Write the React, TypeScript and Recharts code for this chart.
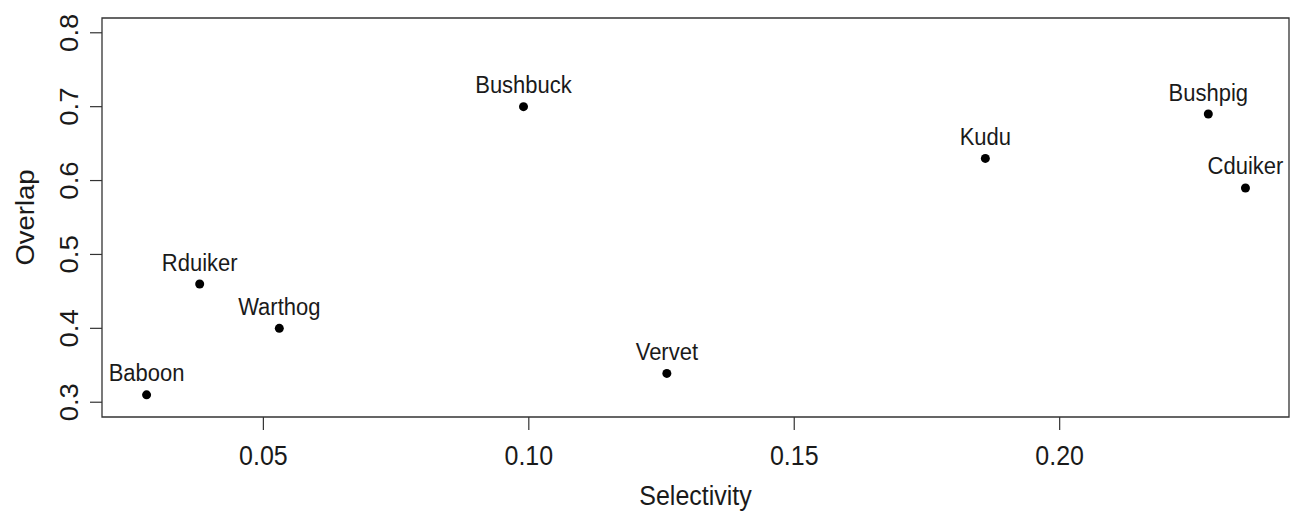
import {
  ReferenceArea,
  Scatter,
  ScatterChart,
  XAxis,
  YAxis,
  Label,
} from "recharts";

// species
const SPECIES = ["Baboon", "Rduiker", "Warthog", "Bushbuck", "Vervet", "Kudu", "Bushpig", "Cduiker"];
const SELECTIVITY = [0.028, 0.038, 0.053, 0.099, 0.126, 0.186, 0.228, 0.235];
const OVERLAP = [0.31, 0.46, 0.40, 0.70, 0.339, 0.63, 0.69, 0.59];

const X_TICKS = [0.05, 0.1, 0.15, 0.2];
const X_TICK_LABELS = ["0.05", "0.10", "0.15", "0.20"];
const Y_TICKS = [0.3, 0.4, 0.5, 0.6, 0.7, 0.8];
const Y_TICK_LABELS = ["0.3", "0.4", "0.5", "0.6", "0.7", "0.8"];

// R-style 4% padding around the data / ylim
const X_DOMAIN: [number, number] = [0.0196, 0.2432];
const Y_DOMAIN: [number, number] = [0.28, 0.82];

const FONT = "'Liberation Sans', Arial, sans-serif";
const INK = "#1a1a1a";

const rows = SPECIES.map((name, i) => ({ name, x: SELECTIVITY[i], y: OVERLAP[i] }));

function XTick(props: any) {
  const { x, y, payload } = props;
  const i = X_TICKS.indexOf(payload.value);
  return (
    <text
      transform={`translate(${x},${y + 35}) scale(1,1.1)`}
      textAnchor="middle"
      fontSize={25}
      fontFamily={FONT}
      fill={INK}
    >
      {i >= 0 ? X_TICK_LABELS[i] : payload.value}
    </text>
  );
}

function YTick(props: any) {
  const { x, y, payload } = props;
  const i = Y_TICKS.findIndex((t) => Math.abs(t - payload.value) < 1e-9);
  return (
    <text
      transform={`translate(${x - 12},${y}) rotate(-90) scale(1.1,1)`}
      textAnchor="middle"
      fontSize={25}
      fontFamily={FONT}
      fill={INK}
    >
      {i >= 0 ? Y_TICK_LABELS[i] : payload.value}
    </text>
  );
}

function Dot(props: any) {
  const { cx, cy, payload } = props;
  return (
    <g>
      <circle cx={cx} cy={cy} r={4.5} fill="#000" />
      <text
        transform={`translate(${cx},${cy - 13.5}) scale(1,1.1)`}
        textAnchor="middle"
        fontSize={22}
        fontFamily={FONT}
        fill={INK}
      >
        {payload.name}
      </text>
    </g>
  );
}

export default function App() {
  return (
    <div style={{ position: "absolute", left: 0, top: 0, width: 1298, height: 524, background: "#fff" }}>
      <ScatterChart width={1298} height={524} margin={{ top: 18, right: 9, bottom: 47, left: 0 }}>
        <XAxis
          type="number"
          dataKey="x"
          domain={X_DOMAIN}
          ticks={X_TICKS}
          interval={0}
          allowDataOverflow
          axisLine={false}
          tickLine={{ stroke: "#333", strokeWidth: 1.2 }}
          tickSize={13}
          tickMargin={0}
          height={60}
          tick={<XTick />}
        >
          <Label
            content={() => (
              <text
                transform="translate(695.5,505) scale(1,1.1)"
                textAnchor="middle"
                fontSize={25}
                fontFamily={FONT}
                fill={INK}
              >
                Selectivity
              </text>
            )}
          />
        </XAxis>
        <YAxis
          type="number"
          dataKey="y"
          domain={Y_DOMAIN}
          ticks={Y_TICKS}
          interval={0}
          allowDataOverflow
          axisLine={false}
          tickLine={{ stroke: "#333", strokeWidth: 1.2 }}
          tickSize={12}
          tickMargin={0}
          width={102}
          tick={<YTick />}
        >
          <Label
            content={() => (
              <text
                transform="translate(34,217.5) rotate(-90) scale(1.1,1)"
                textAnchor="middle"
                fontSize={25}
                fontFamily={FONT}
                fill={INK}
              >
                Overlap
              </text>
            )}
          />
        </YAxis>
        <ReferenceArea
          x1={X_DOMAIN[0]}
          x2={X_DOMAIN[1]}
          y1={Y_DOMAIN[0]}
          y2={Y_DOMAIN[1]}
          fill="none"
          stroke="#333"
          strokeWidth={1.3}
          ifOverflow="visible"
        />
        <Scatter data={rows} shape={<Dot />} isAnimationActive={false} />
      </ScatterChart>
    </div>
  );
}
